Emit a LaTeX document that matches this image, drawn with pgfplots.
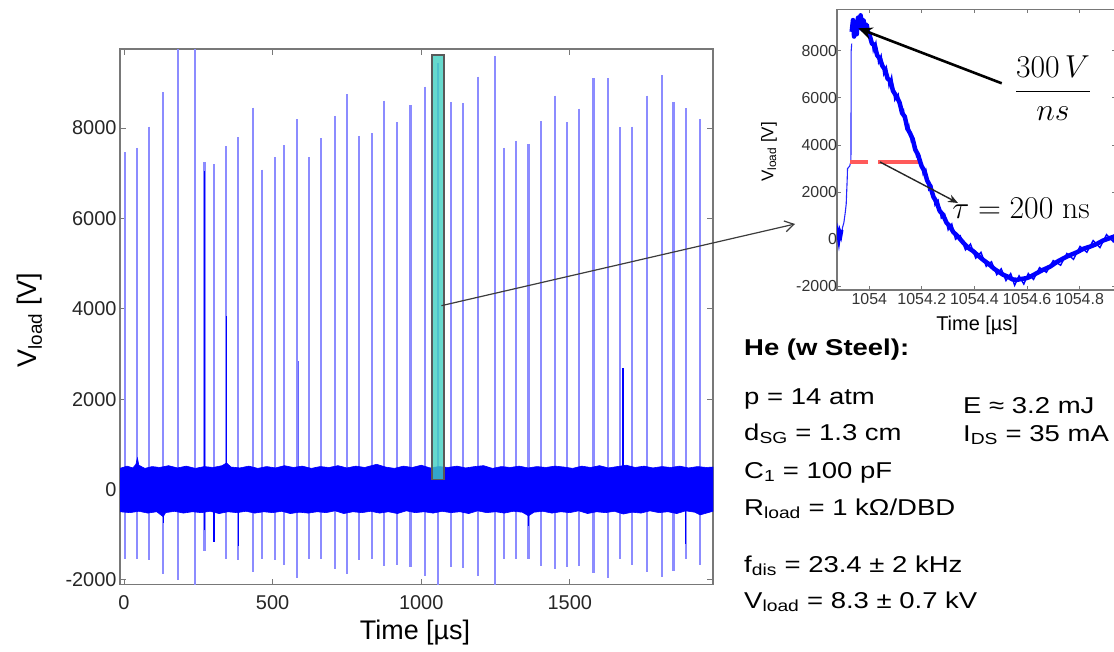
\documentclass[border=0pt]{standalone}
\usepackage{pgfplots}
\pgfplotsset{compat=1.18}
\usepackage[no-math]{fontspec}
\setmainfont{Liberation Sans}
\newfontfamily\blockfont[FakeStretch=1.2]{Liberation Sans}
\usetikzlibrary{arrows.meta}
\definecolor{spikeblue}{RGB}{140,140,255}
\definecolor{turq}{RGB}{64,208,192}
\definecolor{framegray}{RGB}{120,120,120}
\definecolor{dashred}{RGB}{255,90,90}
\definecolor{arrowgray}{RGB}{60,60,60}
\begin{document}
\begin{tikzpicture}
\useasboundingbox (0bp,0bp) rectangle (1114bp,-652bp);
% ================= MAIN AXIS =================
\begin{axis}[
  name=main, scale only axis, width=593bp, height=535.5bp,
  anchor=north west, at={(120bp,-49bp)},
  xmin=-13.5, xmax=1982, ymin=-2100, ymax=9750,
  xtick={0,500,1000,1500}, ytick={-2000,0,2000,4000,6000,8000},
  tick align=inside, major tick length=6bp,
  axis line style={framegray, line width=1.3bp},
  tick style={framegray, line width=1bp},
  /pgf/number format/assume math mode=true,
  /pgf/number format/1000 sep={},
  scaled ticks=false,
  tick label style={font=\fontsize{20}{24}\selectfont, text=black!85},
  xticklabel style={yshift=-8bp},
  xlabel={Time [µs]}, ylabel={V\textsubscript{load} [V]},
  label style={font=\fontsize{27}{32}\selectfont},
  xlabel style={at={(axis description cs:0.4975,-0.0906)}, anchor=center},
  ylabel style={at={(axis description cs:-0.152,0.494)}, anchor=center},
  unbounded coords=jump,
]
% discharge spikes (top and bottom of each)
\addplot[spikeblue, line width=2.1bp] coordinates {
(2,7470)(2,-1530)(2,nan) (43,7560)(43,-1530)(43,nan) (84,8030)(84,-1560)(84,nan)
(132,8790)(132,-1870)(132,nan) (182,10000)(182,-2000)(182,nan) (239,10000)(239,-2300)(239,nan)
(271,7240)(271,-1360)(271,nan) (303,7200)(303,-1140)(303,nan) (344,7600)(344,-1530)(344,nan)
(384,7800)(384,-1560)(384,nan) (433,8450)(433,-1820)(433,nan) (465,7080)(465,-1530)(465,nan)
(508,7360)(508,-1560)(508,nan) (539,7620)(539,-1660)(539,nan) (581,8200)(581,-1950)(581,nan)
(621,7360)(621,-1530)(621,nan) (662,7780)(662,-1530)(662,nan) (711,8270)(711,-1760)(711,nan)
(751,8750)(751,-1870)(751,nan) (792,7830)(792,-1560)(792,nan) (833,7890)(833,-1530)(833,nan)
(874,8610)(874,-1700)(874,nan) (920,8130)(920,-1660)(920,nan) (964,8500)(964,-1720)(964,nan)
(1012,8920)(1012,-1920)(1012,nan) (1056,9450)(1056,-2300)(1056,nan) (1100,8570)(1100,-1720)(1100,nan)
(1142,8550)(1142,-1740)(1142,nan) (1190,9140)(1190,-1920)(1190,nan) (1247,9590)(1247,-2300)(1247,nan)
(1280,7560)(1280,-1530)(1280,nan) (1320,7720)(1320,-1530)(1320,nan) (1361,7650)(1361,-1530)(1361,nan)
(1402,8150)(1402,-1700)(1402,nan) (1450,8720)(1450,-1760)(1450,nan) (1491,8130)(1491,-1720)(1491,nan)
(1531,8430)(1531,-1700)(1531,nan) (1580,9100)(1580,-1840)(1580,nan) (1630,9100)(1630,-1960)(1630,nan)
(1670,8020)(1670,-1530)(1670,nan) (1710,8030)(1710,-1660)(1710,nan) (1760,8720)(1760,-1830)(1760,nan)
(1809,9170)(1809,-1930)(1809,nan) (1849,8570)(1849,-1800)(1849,nan) (1890,8440)(1890,-1530)(1890,nan)
(1939,8200)(1939,-1660)(1939,nan)
};
% darker partial spikes
\addplot[blue, line width=1.2bp] coordinates {
(270,-900)(270,7050)(270,nan) (345,300)(345,3850)(345,nan) (1679,300)(1679,2690)(1679,nan)
(132,-300)(132,-740)(132,nan) (1361,-300)(1361,-810)(1361,nan) (303,-300)(303,-1150)(303,nan)
(1890,-300)(1890,-1200)(1890,nan) (385,-300)(385,-1250)(385,nan)
};
\addplot[blue!60, line width=1.2bp] coordinates {(586,300)(586,2840)};
% noise band
\addplot[fill=blue, draw=blue, line width=0.6bp] coordinates {
(-13.5,470) (10,520) (30,480) (40,560) (45,700) (50,540) (70,470) (95,510) (120,490) (150,530)
(180,480) (210,520) (240,470) (270,510) (300,490) (330,530) (345,590) (360,500) (390,480) (420,520)
(450,470) (480,510) (510,480) (540,530) (570,490) (600,520) (630,470) (660,510) (690,490) (720,530)
(750,480) (780,520) (810,490) (850,560) (880,500) (910,470) (940,520) (970,490) (1000,540) (1030,480)
(1060,510) (1090,490) (1120,520) (1150,480) (1180,510) (1210,530) (1240,470) (1270,510) (1300,490)
(1330,520) (1360,480) (1390,510) (1420,490) (1450,520) (1480,500) (1510,470) (1540,520) (1570,490)
(1600,530) (1630,480) (1660,510) (1690,540) (1720,490) (1750,520) (1780,480) (1810,510) (1840,490)
(1870,520) (1900,480) (1930,510) (1960,490) (1982,500)
(1982,-480) (1960,-520) (1939,-560) (1920,-500) (1890,-470) (1860,-530) (1830,-490) (1800,-510)
(1770,-470) (1740,-520) (1710,-500) (1680,-540) (1650,-480) (1620,-510) (1590,-490) (1560,-530)
(1530,-470) (1500,-510) (1470,-490) (1440,-520) (1410,-480) (1380,-500) (1361,-580) (1340,-500)
(1310,-480) (1280,-520) (1250,-490) (1220,-510) (1190,-470) (1160,-530) (1130,-490) (1100,-510)
(1070,-480) (1040,-520) (1010,-490) (980,-510) (950,-470) (920,-530) (890,-490) (860,-520)
(830,-480) (800,-510) (770,-490) (740,-530) (710,-470) (680,-510) (650,-490) (620,-520) (590,-500)
(560,-530) (530,-480) (500,-510) (470,-490) (440,-520) (410,-480) (380,-510) (350,-490) (320,-530)
(290,-480) (260,-510) (230,-490) (200,-520) (170,-480) (140,-510) (132,-600) (110,-490) (80,-520)
(50,-480) (20,-510) (-13.5,-490)
} -- cycle;
% highlighted window
\addplot[fill=turq, fill opacity=0.8, draw=black!65, line width=1.5bp] coordinates {
(1036.7,220) (1077,220) (1077,9620) (1036.7,9620)} -- cycle;
\coordinate (boxc) at (axis cs:1068,4070);
\end{axis}
% ================= INSET AXIS =================
\begin{axis}[
  name=inset, scale only axis, width=278.5bp, height=280.7bp,
  anchor=north west, at={(837bp,-9.3bp)},
  xmin=1053.877, xmax=1054.937, ymin=-2150, ymax=9756,
  xtick={1054,1054.2,1054.4,1054.6,1054.8},
  xticklabels={1054,1054.2,1054.4,1054.6,1054.8},
  ytick={-2000,0,2000,4000,6000,8000},
  yticklabels={-2000,0,2000,4000,6000,8000},
  tick align=inside, major tick length=4bp,
  axis line style={framegray, line width=1.2bp},
  tick style={framegray, line width=0.8bp},
  tick label style={font=\fontsize{16}{19}\selectfont, text=black!80},
  yticklabel style={xshift=3.5bp},
  xlabel={Time [µs]}, ylabel={V\textsubscript{load} [V]},
  xlabel style={font=\fontsize{20}{24}\selectfont, at={(axis description cs:0.503,-0.1247)}, anchor=center},
  ylabel style={font=\fontsize{17}{20}\selectfont, at={(axis description cs:-0.244,0.4916)}, anchor=center},
]
% rise (thin)
\addplot[blue!85, line width=1.1bp] coordinates {
(1053.877,0) (1053.882,300) (1053.886,100) (1053.890,350) (1053.894,200) (1053.898,500)
(1053.903,700) (1053.908,1100) (1053.912,1500) (1053.916,2600) (1053.917,3000) (1053.925,3100)
(1053.930,3300) (1053.931,8000) (1053.933,8300)};
% start noise (thick)
\addplot[blue, line width=3bp] coordinates {
(1053.877,0) (1053.880,250) (1053.884,-50) (1053.888,300) (1053.892,150) (1053.896,400)};
% red dashed tau line
\addplot[dashred, line width=3.5bp, dash pattern=on 18bp off 10bp on 42bp off 10bp] coordinates {(1053.928,3280) (1054.200,3280)};
% peak and decay (thick noisy)
\addplot[blue, line width=4.5bp, line join=round] coordinates {
(1053.933,8800) (1053.938,9300) (1053.942,8600) (1053.947,9200) (1053.952,8700) (1053.957,9400)
(1053.962,9000) (1053.967,9500) (1053.972,8900) (1053.978,9300) (1053.984,8800) (1053.990,9100)
(1053.996,8700) (1054.000,8700) (1054.010,8300) (1054.020,8250) (1054.030,7800) (1054.041,7650)
(1054.050,7350) (1054.060,7200) (1054.070,6800) (1054.080,6750) (1054.090,6300) (1054.104,6050)
(1054.115,5800) (1054.125,5350) (1054.135,5200) (1054.145,4700) (1054.155,4500) (1054.165,4250)
(1054.175,3800) (1054.185,3600) (1054.199,3100) (1054.210,2900) (1054.220,2500) (1054.232,2250)
(1054.244,1800) (1054.255,1600) (1054.268,1200) (1054.280,1050) (1054.294,700) (1054.307,550)
(1054.320,300) (1054.335,150) (1054.358,-150) (1054.375,-350) (1054.395,-500) (1054.415,-700)
(1054.434,-880) (1054.455,-1050) (1054.475,-1250) (1054.495,-1400) (1054.509,-1500) (1054.530,-1600)
(1054.545,-1700) (1054.561,-1720) (1054.580,-1680) (1054.597,-1650) (1054.612,-1590) (1054.635,-1450)
(1054.660,-1300) (1054.688,-1160) (1054.715,-950) (1054.740,-800) (1054.764,-670) (1054.790,-550)
(1054.815,-400) (1054.840,-310) (1054.865,-200) (1054.890,-50) (1054.915,50) (1054.940,150)};
% measurement noise around the decay
\addplot[blue, line width=1.4bp] coordinates {
(1054.005,8800) (1054.015,8000) (1054.025,8350) (1054.035,7500) (1054.045,7800) (1054.055,7000)
(1054.065,7300) (1054.075,6500) (1054.085,6900) (1054.097,5900) (1054.110,6150) (1054.120,5400)
(1054.130,5500) (1054.140,4700) (1054.150,4850) (1054.160,4150) (1054.170,4250) (1054.180,3500)
(1054.192,3550) (1054.205,2750) (1054.215,2950) (1054.226,2100) (1054.238,2250) (1054.250,1450)
(1054.262,1650) (1054.274,900) (1054.287,1050) (1054.300,400) (1054.314,650) (1054.328,0)
(1054.346,150) (1054.366,-450) (1054.385,-200) (1054.405,-800) (1054.425,-550) (1054.445,-1150)
(1054.465,-950) (1054.485,-1500) (1054.502,-1250) (1054.520,-1750) (1054.538,-1450) (1054.553,-1950)
(1054.570,-1550) (1054.588,-1900) (1054.605,-1450) (1054.625,-1700) (1054.648,-1200) (1054.674,-1400)
(1054.700,-900) (1054.728,-1100) (1054.752,-600) (1054.777,-850) (1054.802,-300) (1054.828,-550)
(1054.852,-50) (1054.878,-350) (1054.903,200) (1054.928,-100) (1054.940,300)};
\end{axis}
% ================= ANNOTATIONS =================
\draw[arrowgray, line width=1.2bp, -{Straight Barb[length=9bp,width=11bp]}] (boxc) -- (795bp,-224bp);
\draw[black, line width=2.6bp, -{Stealth[length=14bp,width=12bp]}] (1001.7bp,-83.3bp) -- (858.3bp,-28.3bp);
\draw[black!85, line width=1.4bp, -{Stealth[length=10bp,width=8bp]}] (880bp,-162bp) -- (958bp,-203bp);
\node[inner sep=0pt, anchor=center, scale=1.28, transform shape] at (1053bp,-88bp) {\fontsize{24.88}{30}\selectfont $\displaystyle\frac{300\,V}{ns}$};
\node[inner sep=0pt, anchor=base west, scale=1.28, transform shape] at (952bp,-218bp) {\fontsize{24.88}{30}\selectfont $\tau = 200\ \mathrm{ns}$};
% parameter text block
\begin{scope}[every node/.style={anchor=base west, inner sep=0pt}]
\node at (744bp,-355bp) {\blockfont\fontsize{23}{27}\selectfont\bfseries He (w Steel):};
\node at (744bp,-404bp) {\blockfont\fontsize{23}{27}\selectfont p = 14 atm};
\node at (744bp,-440bp) {\blockfont\fontsize{23}{27}\selectfont d\textsubscript{SG} = 1.3 cm};
\node at (744bp,-478bp) {\blockfont\fontsize{23}{27}\selectfont C\textsubscript{1} = 100 pF};
\node at (744bp,-515bp) {\blockfont\fontsize{23}{27}\selectfont R\textsubscript{load} = 1 kΩ/DBD};
\node at (744bp,-572bp) {\blockfont\fontsize{23}{27}\selectfont f\textsubscript{dis} = 23.4 ± 2 kHz};
\node at (744bp,-608bp) {\blockfont\fontsize{23}{27}\selectfont V\textsubscript{load} = 8.3 ± 0.7 kV};
\node at (963bp,-413bp) {\blockfont\fontsize{23}{27}\selectfont E ≈ 3.2 mJ};
\node at (963bp,-441bp) {\blockfont\fontsize{23}{27}\selectfont I\textsubscript{DS} = 35 mA};
\end{scope}
\end{tikzpicture}
\end{document}
